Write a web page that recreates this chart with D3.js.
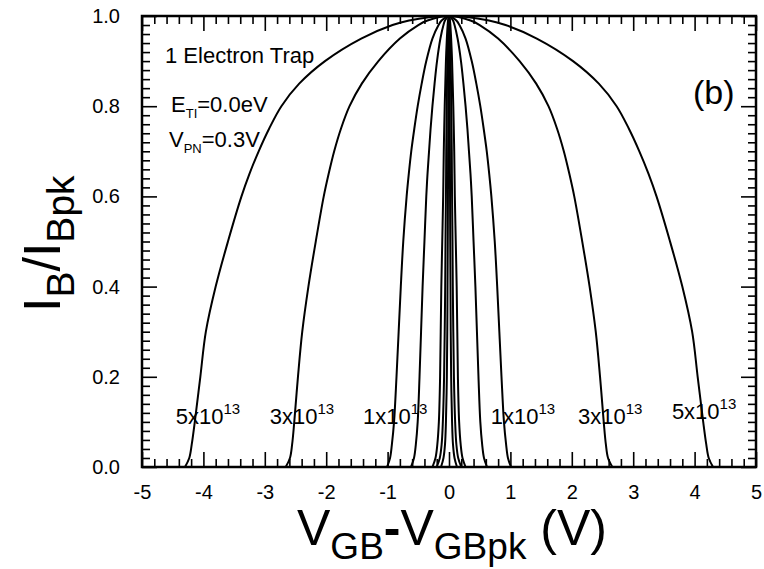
<!DOCTYPE html>
<html>
<head>
<meta charset="utf-8">
<script src="https://cdn.jsdelivr.net/npm/d3@7"></script>
<style>
  body { margin: 0; background: #fff; }
  svg text { font-family: "Liberation Sans", Arial, sans-serif; fill: #000; }
  .axis path { display: none; }
  .axis line { stroke: #000; stroke-width: 1.6; }
  .axis text { font-size: 20px; }
  .curve { fill: none; stroke: #000; stroke-width: 2; }
</style>
</head>
<body>
<svg id="view"></svg>
<script>
const yLevels = [0, 0.02, 0.05, 0.1, 0.2, 0.3, 0.4, 0.5, 0.6, 0.65, 0.7, 0.75, 0.8, 0.85, 0.9, 0.95, 0.98, 0.99, 1.0];

// half width |V_GB - V_GBpk| of each curve at those levels
const w5e13 = [4.30, 4.23, 4.19, 4.14, 4.05, 3.96, 3.80, 3.60, 3.38, 3.25, 3.10, 2.93, 2.73, 2.44, 2.02, 1.43, 0.92, 0.65, 0];
const w3e13 = [2.66, 2.59, 2.555, 2.52, 2.46, 2.39, 2.29, 2.17, 2.04, 1.96, 1.87, 1.76, 1.62, 1.42, 1.15, 0.80, 0.50, 0.35, 0];
const w1e13 = [1.01, 0.96, 0.93, 0.895, 0.855, 0.82, 0.785, 0.745, 0.69, 0.655, 0.615, 0.565, 0.51, 0.445, 0.37, 0.27, 0.17, 0.12, 0];
const w5e12 = [0.62, 0.57, 0.54, 0.51, 0.48, 0.455, 0.43, 0.40, 0.37, 0.35, 0.325, 0.30, 0.27, 0.235, 0.195, 0.14, 0.09, 0.065, 0];
const w3e12 = [0.27, 0.22, 0.19, 0.165, 0.145, 0.135, 0.125, 0.11, 0.095, 0.09, 0.085, 0.078, 0.07, 0.06, 0.05, 0.035, 0.022, 0.015, 0];
const w1e12 = [0.20, 0.15, 0.12, 0.10, 0.08, 0.07, 0.062, 0.057, 0.05, 0.047, 0.045, 0.041, 0.038, 0.033, 0.027, 0.019, 0.012, 0.008, 0];
const w5e11 = [0.13, 0.09, 0.065, 0.05, 0.035, 0.028, 0.024, 0.02, 0.017, 0.016, 0.015, 0.013, 0.012, 0.010, 0.008, 0.006, 0.004, 0.003, 0];
const curves = [w5e13, w3e13, w1e13, w5e12, w3e12, w1e12, w5e11];

const xTicks = [-5, -4, -3, -2, -1, 0, 1, 2, 3, 4, 5];
const yTicks = [0, 0.2, 0.4, 0.6, 0.8, 1.0];

// curve labels: [x position in V, I_B/I_Bpk, mantissa]
const curveLabels = [[-4.45, 0.095, "5"], [-2.92, 0.095, "3"], [-1.40, 0.095, "1"],
                     [0.68, 0.095, "1"], [2.10, 0.095, "3"], [3.63, 0.107, "5"]];

const W = 764, H = 569;
const margin = {top: 16, right: 8, bottom: 102, left: 142};
const width = W - margin.left - margin.right;
const height = H - margin.top - margin.bottom;

const root = d3.select('#view').attr('width', W).attr('height', H);
const svg = root.append('g').attr('transform', `translate(${margin.left},${margin.top})`);

const x = d3.scaleLinear().domain([-5, 5]).range([0, width]);
const y = d3.scaleLinear().domain([0, 1]).range([height, 0]);

const xMinor = d3.range(-50, 51, 2).map(d => d / 10).filter(d => !xTicks.includes(d));
const yMinor = d3.range(0, 51).map(d => d / 50).filter(d => Math.round(d * 50) % 10 !== 0);

// major ticks inward, labels outside
svg.append('g').attr('class', 'axis').attr('transform', `translate(0,${height})`)
    .call(d3.axisBottom(x).tickValues(xTicks).tickSize(-15).tickPadding(18).tickFormat(d => String(d)));
svg.append('g').attr('class', 'axis').attr('transform', `translate(0,${height})`)
    .call(d3.axisBottom(x).tickValues(xMinor).tickSize(-8).tickFormat(''));
svg.append('g').attr('class', 'axis')
    .call(d3.axisTop(x).tickValues(xTicks).tickSize(-15).tickFormat(''));
svg.append('g').attr('class', 'axis')
    .call(d3.axisTop(x).tickValues(xMinor).tickSize(-8).tickFormat(''));

svg.append('g').attr('class', 'axis')
    .call(d3.axisLeft(y).tickValues(yTicks).tickSize(-15).tickPadding(22).tickFormat(d3.format('.1f')));
svg.append('g').attr('class', 'axis')
    .call(d3.axisLeft(y).tickValues(yMinor).tickSize(-8).tickFormat(''));
svg.append('g').attr('class', 'axis').attr('transform', `translate(${width},0)`)
    .call(d3.axisRight(y).tickValues(yTicks).tickSize(-15).tickFormat(''));
svg.append('g').attr('class', 'axis').attr('transform', `translate(${width},0)`)
    .call(d3.axisRight(y).tickValues(yMinor).tickSize(-8).tickFormat(''));

// curves: left branch up to the peak, right branch back down
const line = d3.line()
    .x(d => x(d[0]))
    .y(d => y(d[1]))
    .curve(d3.curveCatmullRom.alpha(0.5));

curves.forEach(w => {
    const left = yLevels.map((v, i) => [-w[i], v]);
    const right = yLevels.slice(0, -1).map((v, i) => [w[i], v]).reverse();
    svg.append('path')
        .datum(left.concat(right))
        .attr('class', 'curve')
        .attr('d', line);
});

// frame
svg.append('rect')
    .attr('width', width).attr('height', height)
    .attr('fill', 'none').attr('stroke', '#000').attr('stroke-width', 2.5);

// curve labels
curveLabels.forEach(([v, lv, m]) => {
    const t = svg.append('text')
        .attr('x', x(v))
        .attr('y', y(lv))
        .style('font-size', '22px');
    t.append('tspan').text(m + 'x10');
    t.append('tspan').attr('dy', -10).style('font-size', '15px').text('13');
});

// annotations
svg.append('text').attr('x', 23).attr('y', 47).style('font-size', '22px').text('1 Electron Trap');

const et = svg.append('text').attr('x', 29).attr('y', 96).style('font-size', '22px');
et.append('tspan').text('E');
et.append('tspan').attr('dy', 6).style('font-size', '13px').text('TI');
et.append('tspan').attr('dy', -6).text('=0.0eV');

const vp = svg.append('text').attr('x', 27).attr('y', 131).style('font-size', '22px');
vp.append('tspan').text('V');
vp.append('tspan').attr('dy', 6).style('font-size', '13px').text('PN');
vp.append('tspan').attr('dy', -6).text('=0.3V');

svg.append('text').attr('x', 551).attr('y', 88).style('font-size', '34px').text('(b)');

// axis titles
const xt = root.append('text').attr('x', 297).attr('y', 545).style('font-size', '50px');
xt.append('tspan').text('V');
xt.append('tspan').attr('dy', 14).style('font-size', '37px').text('GB');
xt.append('tspan').attr('dy', -14).style('font-weight', 'bold').text('-');
xt.append('tspan').text('V');
xt.append('tspan').attr('dy', 14).style('font-size', '37px').text('GBpk');
xt.append('tspan').attr('dy', -14).text(' (V)');

const yt = root.append('text').attr('transform', 'translate(60,312) rotate(-90)').style('font-size', '52px');
yt.append('tspan').text('I');
yt.append('tspan').attr('dy', 14).style('font-size', '39px').text('B');
yt.append('tspan').attr('dy', -14).text('/I');
yt.append('tspan').attr('dy', 14).style('font-size', '39px').text('Bpk');
</script>
</body>
</html>
